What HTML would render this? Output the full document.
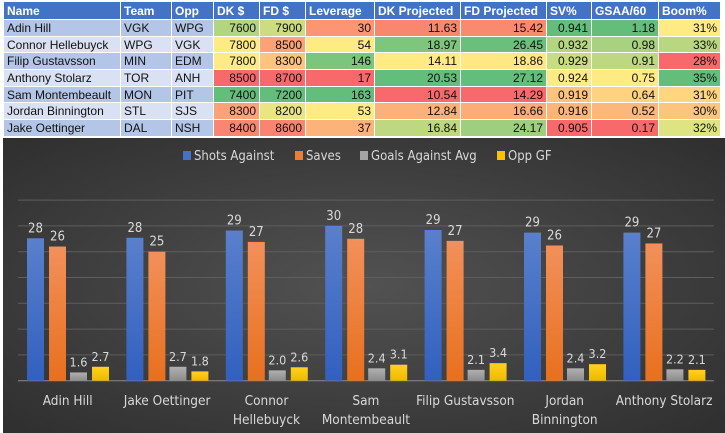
<!DOCTYPE html>
<html><head><meta charset="utf-8"><style>
body{margin:0;width:725px;height:433px;background:#fff;overflow:hidden;font-family:"Liberation Sans",sans-serif}
table{position:absolute;left:3px;top:1px;border-collapse:collapse;font-size:12px;font-family:"Liberation Sans",sans-serif;table-layout:fixed;width:717px}
td,th{height:15.7px;padding:0 3px;border:1px solid #fff;white-space:nowrap;overflow:hidden;color:#111}
th{background:#4472c4;color:#fff;text-align:left;font-weight:bold;height:17px}
td.n{text-align:right}
tr:nth-child(even) td.l{background:#b4c6e7}
tr:nth-child(odd) td.l{background:#d9e1f2}
#chart{position:absolute;left:3px;top:138px}
</style></head><body>
<table>
<colgroup><col style="width:117px"><col style="width:51px"><col style="width:42px"><col style="width:46px"><col style="width:46px"><col style="width:69px"><col style="width:86px"><col style="width:86px"><col style="width:45px"><col style="width:67px"><col style="width:62px"></colgroup>
<tr><th>Name</th><th>Team</th><th>Opp</th><th>DK $</th><th>FD $</th><th>Leverage</th><th>DK Projected</th><th>FD Projected</th><th>SV%</th><th>GSAA/60</th><th>Boom%</th></tr>
<tr><td class="l">Adin Hill</td><td class="l">VGK</td><td class="l">WPG</td><td class="n" style="background:#b1d580">7600</td><td class="n" style="background:#cbdc81">7900</td><td class="n" style="background:#fb9574">30</td><td class="n" style="background:#f9876f">11.63</td><td class="n" style="background:#f98a70">15.42</td><td class="n" style="background:#63be7b">0.941</td><td class="n" style="background:#63be7b">1.18</td><td class="n" style="background:#ffeb84">31%</td></tr>
<tr><td class="l">Connor Hellebuyck</td><td class="l">WPG</td><td class="l">VGK</td><td class="n" style="background:#ffeb84">7800</td><td class="n" style="background:#fba276">8500</td><td class="n" style="background:#ffeb84">54</td><td class="n" style="background:#7dc67c">18.97</td><td class="n" style="background:#6ac07b">26.45</td><td class="n" style="background:#b5d680">0.932</td><td class="n" style="background:#a8d27f">0.98</td><td class="n" style="background:#b9d780">33%</td></tr>
<tr><td class="l">Filip Gustavsson</td><td class="l">MIN</td><td class="l">EDM</td><td class="n" style="background:#ffeb84">7800</td><td class="n" style="background:#fcc47c">8300</td><td class="n" style="background:#7bc67c">146</td><td class="n" style="background:#ffeb84">14.11</td><td class="n" style="background:#ffe884">18.86</td><td class="n" style="background:#c8dc81">0.929</td><td class="n" style="background:#bdd881">0.91</td><td class="n" style="background:#f8696b">28%</td></tr>
<tr><td class="l">Anthony Stolarz</td><td class="l">TOR</td><td class="l">ANH</td><td class="n" style="background:#f8696b">8500</td><td class="n" style="background:#f8696b">8700</td><td class="n" style="background:#f8696b">17</td><td class="n" style="background:#63be7b">20.53</td><td class="n" style="background:#63be7b">27.12</td><td class="n" style="background:#ffeb84">0.924</td><td class="n" style="background:#ffeb84">0.75</td><td class="n" style="background:#63be7b">35%</td></tr>
<tr><td class="l">Sam Montembeault</td><td class="l">MON</td><td class="l">PIT</td><td class="n" style="background:#63be7b">7400</td><td class="n" style="background:#63be7b">7200</td><td class="n" style="background:#63be7b">163</td><td class="n" style="background:#f8696b">10.54</td><td class="n" style="background:#f8696b">14.29</td><td class="n" style="background:#fdc27c">0.919</td><td class="n" style="background:#fed280">0.64</td><td class="n" style="background:#ffd580">31%</td></tr>
<tr><td class="l">Jordan Binnington</td><td class="l">STL</td><td class="l">SJS</td><td class="n" style="background:#fba276">8300</td><td class="n" style="background:#eae583">8200</td><td class="n" style="background:#ffeb84">53</td><td class="n" style="background:#fcb07a">12.84</td><td class="n" style="background:#fbac78">16.66</td><td class="n" style="background:#fcb479">0.916</td><td class="n" style="background:#fcb87a">0.52</td><td class="n" style="background:#fcc57d">30%</td></tr>
<tr><td class="l">Jake Oettinger</td><td class="l">DAL</td><td class="l">NSH</td><td class="n" style="background:#f98670">8400</td><td class="n" style="background:#f98570">8600</td><td class="n" style="background:#fcb37a">37</td><td class="n" style="background:#bdd881">16.84</td><td class="n" style="background:#9dcf7f">24.17</td><td class="n" style="background:#f8696b">0.905</td><td class="n" style="background:#f8696b">0.17</td><td class="n" style="background:#dde481">32%</td></tr>
</table>
<svg id="chart" width="722" height="295">
<defs>
<radialGradient id="bg" cx="0.5" cy="0.5" r="0.8"><stop offset="0" stop-color="#525252"/><stop offset="1" stop-color="#2a2a2a"/></radialGradient>
<linearGradient id="gB" x1="0" y1="0" x2="0" y2="1"><stop offset="0" stop-color="#5a80cc"/><stop offset="1" stop-color="#3160bf"/></linearGradient>
<linearGradient id="gO" x1="0" y1="0" x2="0" y2="1"><stop offset="0" stop-color="#f2905a"/><stop offset="1" stop-color="#e8701e"/></linearGradient>
<linearGradient id="gG" x1="0" y1="0" x2="0" y2="1"><stop offset="0" stop-color="#b0b0b0"/><stop offset="1" stop-color="#8c8c8c"/></linearGradient>
<linearGradient id="gY" x1="0" y1="0" x2="0" y2="1"><stop offset="0" stop-color="#ffd21e"/><stop offset="1" stop-color="#f0b800"/></linearGradient>
</defs>
<rect width="722" height="295" fill="url(#bg)"/>
<g id="grid"></g><g id="bars"></g><g id="legend"></g>
</svg>
<script>
const categories=[["Adin Hill"],["Jake Oettinger"],["Connor","Hellebuyck"],["Sam","Montembeault"],["Filip Gustavsson"],["Jordan","Binnington"],["Anthony Stolarz"]];
const shotsAgainst=[27.6,27.7,29.1,30.0,29.2,28.7,28.7];
const saves=[26.0,25.0,26.9,27.5,27.1,26.2,26.6];
const goalsAgainstAvg=[1.6,2.7,2.0,2.4,2.1,2.4,2.2];
const oppGF=[2.7,1.8,2.6,3.1,3.4,3.2,2.1];
const seriesNames=["Shots Against","Saves","Goals Against Avg","Opp GF"];
const gridTicks=[0,5,10,15,20,25,30,35];
const ns="http://www.w3.org/2000/svg";
const svgTop=138, x0=18-3, catW=99.4, baseY=380.7-svgTop, unit=25.8/5;
const y=v=>baseY-v*unit;
const fills=["url(#gB)","url(#gO)","url(#gG)","url(#gY)"];
const legColors=["#4472c4","#ed7d31","#a5a5a5","#ffc000"];
const offs=[9,31,52,74], bw=17;
function mk(t,a,p){const e=document.createElementNS(ns,t);for(const k in a)e.setAttribute(k,a[k]);p.appendChild(e);return e;}
const grid=document.getElementById('grid');
gridTicks.forEach(v=>{const l=mk('line',{x1:x0,x2:x0+catW*7,y1:y(v),y2:y(v),stroke:v===0?'#8a8a8a':'#5e5e5e','stroke-width':1},grid);

});
const bars=document.getElementById('bars');
const series=[shotsAgainst,saves,goalsAgainstAvg,oppGF];
categories.forEach((c,i)=>{
  series.forEach((s,j)=>{
    const v=s[i];const bx=x0+catW*i+offs[j];
    const r=mk('rect',{x:bx,y:y(v),width:bw,height:v*unit,fill:fills[j]},bars);
    
    
    const lbl=j<2?String(Math.round(v)):v.toFixed(1);
    const t=mk('text',{x:bx+bw/2,y:y(v)-6,'text-anchor':'middle','font-size':j<2?13:12.5,fill:'#d9d9d9','font-family':'DejaVu Sans Condensed, Liberation Sans, sans-serif'},bars);
    t.textContent=lbl;
    
    
  });
  c.forEach((ln,k)=>{
    const t=mk('text',{x:x0+catW*i+catW/2,y:267+k*19,'text-anchor':'middle','font-size':13.5,fill:'#d9d9d9','font-family':'DejaVu Sans Condensed, Liberation Sans, sans-serif'},bars);
    t.textContent=ln;
    
    
  });
});
const leg=document.getElementById('legend');
const legX=[180,292,357,494];
seriesNames.forEach((n,j)=>{
  const g=mk('g',{},leg);
  
  
  mk('rect',{x:legX[j],y:13,width:8,height:9,fill:legColors[j]},g);
  const t=mk('text',{x:legX[j]+11,y:22,'font-size':13,fill:'#d9d9d9','font-family':'DejaVu Sans Condensed, Liberation Sans, sans-serif'},g);
  t.textContent=n;
});
</script>
</body></html>
